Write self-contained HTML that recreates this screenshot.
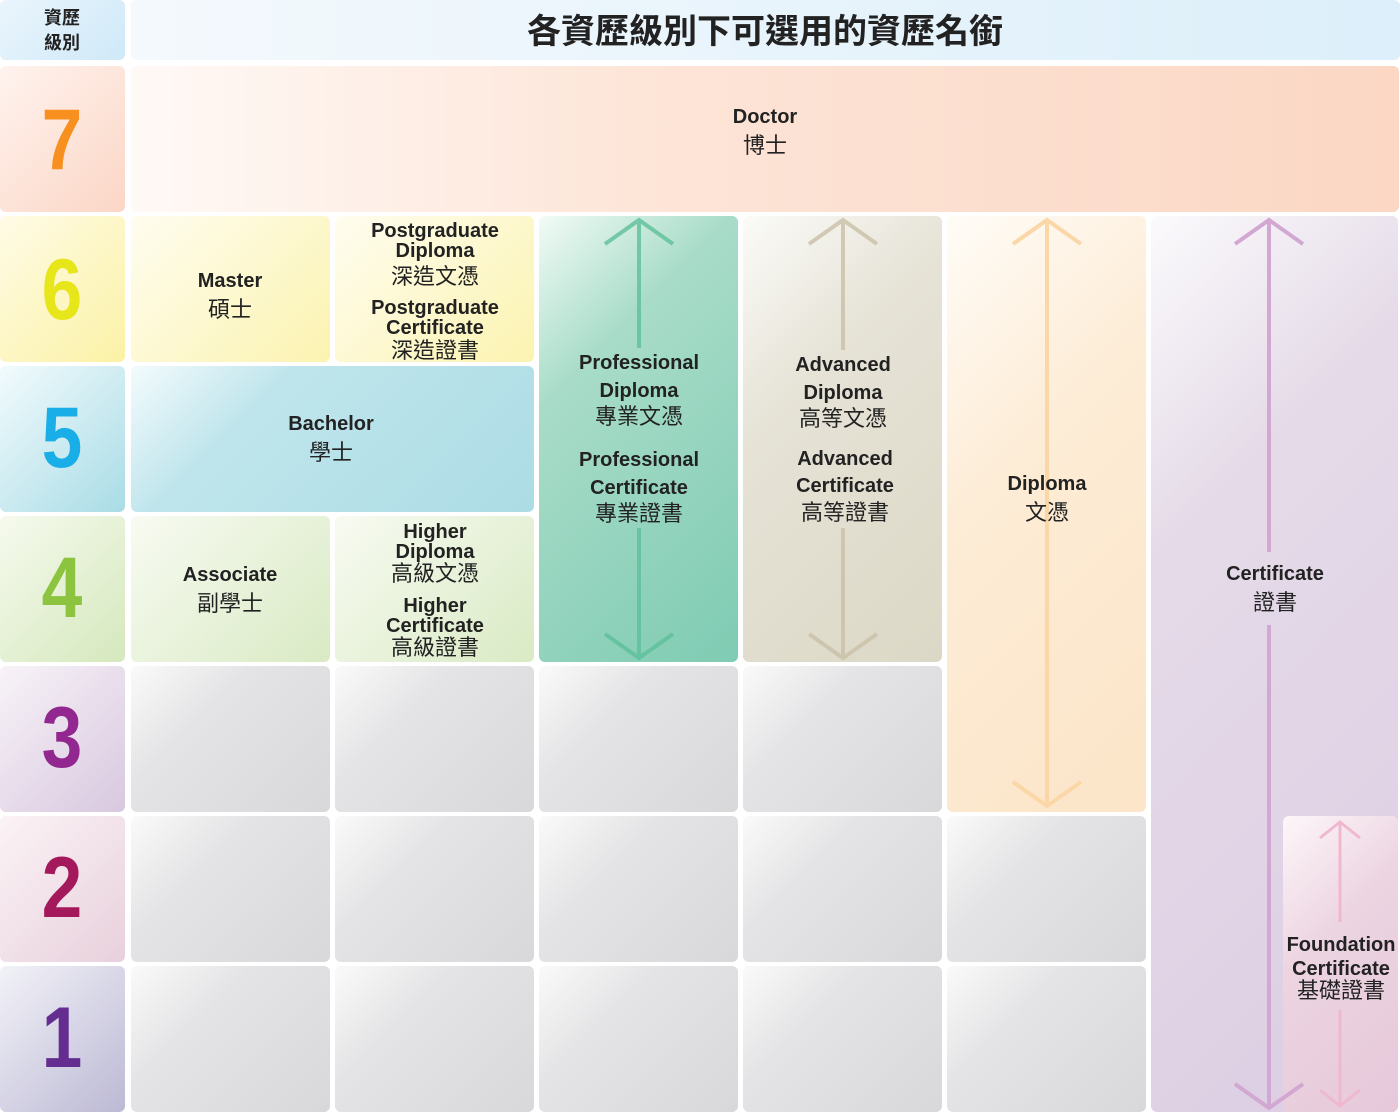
<!DOCTYPE html>
<html><head><meta charset="utf-8"><style>
body{margin:0;width:1400px;height:1113px;background:#fff;position:relative;overflow:hidden;font-family:"Liberation Sans","Noto Sans CJK TC",sans-serif;color:#222}
.b{position:absolute;border-radius:6px}
.t{position:absolute;transform:translate(-50%,-50%);white-space:nowrap;font-weight:bold;font-size:20px;line-height:1;margin-top:2px}
.c{font-weight:normal;font-size:22px}
.n{position:absolute;transform:translate(-50%,-50%) scaleX(0.85);font-weight:900;font-size:86px;font-family:"Liberation Sans",sans-serif;line-height:1}
.g{background:linear-gradient(135deg,#fafafa 0%,#e4e4e6 35%,#d8d8da 100%)}
</style></head><body>
<div class="b" style="left:0;top:0;width:125px;height:60px;background:linear-gradient(135deg,#eaf5fc,#cfe9f8)"></div>
<div class="b" style="left:131px;top:0;width:1269px;height:60px;background:linear-gradient(90deg,#f4f9fd,#dceffa)"></div>
<div class="b" style="left:0;top:66px;width:125px;height:146px;background:linear-gradient(135deg,#fff3ee,#fbd6c6)"></div>
<div class="b" style="left:0;top:216px;width:125px;height:146px;background:linear-gradient(135deg,#fffbe6,#fbf2a6)"></div>
<div class="b" style="left:0;top:366px;width:125px;height:146px;background:linear-gradient(135deg,#f2fbfd,#a9dce6)"></div>
<div class="b" style="left:0;top:516px;width:125px;height:146px;background:linear-gradient(135deg,#f6faee,#d5e8bd)"></div>
<div class="b" style="left:0;top:666px;width:125px;height:146px;background:linear-gradient(135deg,#f8f3f8,#d8c8df)"></div>
<div class="b" style="left:0;top:816px;width:125px;height:146px;background:linear-gradient(135deg,#fbf3f6,#e8d0dc)"></div>
<div class="b" style="left:0;top:966px;width:125px;height:146px;background:linear-gradient(135deg,#f2f2f8,#bcb9d4)"></div>
<div class="b" style="left:131px;top:66px;width:1268px;height:146px;background:linear-gradient(90deg,#fff9f6,#fde5d8 40%,#fbd7c4)"></div>
<div class="b" style="left:131px;top:216px;width:199px;height:146px;background:linear-gradient(135deg,#fffdf0,#fbf3b0)"></div>
<div class="b" style="left:335px;top:216px;width:199px;height:146px;background:linear-gradient(135deg,#fffdf0,#fbf3b0)"></div>
<div class="b" style="left:131px;top:366px;width:403px;height:146px;background:linear-gradient(135deg,#f3fbfd,#bfe5ec 30%,#acdce5)"></div>
<div class="b" style="left:131px;top:516px;width:199px;height:146px;background:linear-gradient(135deg,#f8fbf2,#d9eac4)"></div>
<div class="b" style="left:335px;top:516px;width:199px;height:146px;background:linear-gradient(135deg,#f8fbf2,#d9eac4)"></div>
<div class="b" style="left:539px;top:216px;width:199px;height:446px;background:linear-gradient(135deg,#f2fbf7,#a8dcc8 30%,#7fcbb3)"></div>
<div class="b" style="left:743px;top:216px;width:199px;height:446px;background:linear-gradient(135deg,#fbfbf8,#e6e3d7 35%,#dcd8c6)"></div>
<div class="b" style="left:947px;top:216px;width:199px;height:596px;background:linear-gradient(135deg,#fffcf7,#fdecd6 40%,#fce5c8)"></div>
<div class="b" style="left:1151px;top:216px;width:247px;height:896px;background:linear-gradient(135deg,#fbfafc,#e5dbe8 30%,#dccde3)"></div>
<div class="b" style="left:1283px;top:816px;width:115px;height:296px;background:linear-gradient(135deg,#fdf6f9,#ecd4e1 40%,#e6c8da)"></div>
<div class="b g" style="left:131px;top:666px;width:199px;height:146px"></div>
<div class="b g" style="left:335px;top:666px;width:199px;height:146px"></div>
<div class="b g" style="left:539px;top:666px;width:199px;height:146px"></div>
<div class="b g" style="left:743px;top:666px;width:199px;height:146px"></div>
<div class="b g" style="left:131px;top:816px;width:199px;height:146px"></div>
<div class="b g" style="left:335px;top:816px;width:199px;height:146px"></div>
<div class="b g" style="left:539px;top:816px;width:199px;height:146px"></div>
<div class="b g" style="left:743px;top:816px;width:199px;height:146px"></div>
<div class="b g" style="left:947px;top:816px;width:199px;height:146px"></div>
<div class="b g" style="left:131px;top:966px;width:199px;height:146px"></div>
<div class="b g" style="left:335px;top:966px;width:199px;height:146px"></div>
<div class="b g" style="left:539px;top:966px;width:199px;height:146px"></div>
<div class="b g" style="left:743px;top:966px;width:199px;height:146px"></div>
<div class="b g" style="left:947px;top:966px;width:199px;height:146px"></div>
<svg width="1400" height="1113" style="position:absolute;left:0;top:0" fill="none" stroke-width="4">
<g stroke="#5cbf98" opacity="0.8"><path d="M639 220V348M639 528V658M605 244L639 220L673 244M605 634L639 658L673 634"/></g>
<g stroke="#c9bfa8" opacity="0.8"><path d="M843 220V350M843 528V658M809 244L843 220L877 244M809 634L843 658L877 634"/></g>
<g stroke="#fbd7a8"><path d="M1047 220V806M1013 244L1047 220L1081 244M1013 782L1047 806L1081 782"/></g>
<g stroke="#d2a8d2"><path d="M1269 220V552M1269 625V1108M1235 244L1269 220L1303 244M1235 1084L1269 1108L1303 1084"/></g>
<g stroke="#f0b8cf" stroke-width="3"><path d="M1340 822V922M1340 1010V1106M1320 838L1340 822L1360 838M1320 1090L1340 1106L1360 1090"/></g>
</svg>
<div class="n" style="left:62px;top:140px;color:#f7901e">7</div>
<div class="n" style="left:62px;top:290px;color:#e6e61a">6</div>
<div class="n" style="left:62px;top:438px;color:#1aaee8">5</div>
<div class="n" style="left:62px;top:588px;color:#8cc43f">4</div>
<div class="n" style="left:62px;top:738px;color:#92278f">3</div>
<div class="n" style="left:62px;top:888px;color:#a3195b">2</div>
<div class="n" style="left:62px;top:1038px;color:#662d91">1</div>
<div class="t c" style="left:62px;top:16px;font-size:18px;font-weight:bold">資歷</div>
<div class="t c" style="left:62px;top:41px;font-size:18px;font-weight:bold">級別</div>
<div class="t" style="left:765px;top:30px;font-size:34px">各資歷級別下可選用的資歷名銜</div>
<div class="t" style="left:765px;top:115px">Doctor</div><div class="t c" style="left:765px;top:144px">博士</div>
<div class="t" style="left:230px;top:279px">Master</div><div class="t c" style="left:230px;top:308px">碩士</div>
<div class="t" style="left:435px;top:229px">Postgraduate</div><div class="t" style="left:435px;top:249px">Diploma</div><div class="t c" style="left:435px;top:275px">深造文憑</div>
<div class="t" style="left:435px;top:306px">Postgraduate</div><div class="t" style="left:435px;top:326px">Certificate</div><div class="t c" style="left:435px;top:349px">深造證書</div>
<div class="t" style="left:331px;top:422px">Bachelor</div><div class="t c" style="left:331px;top:451px">學士</div>
<div class="t" style="left:230px;top:573px">Associate</div><div class="t c" style="left:230px;top:602px">副學士</div>
<div class="t" style="left:435px;top:530px">Higher</div><div class="t" style="left:435px;top:550px">Diploma</div><div class="t c" style="left:435px;top:572px">高級文憑</div>
<div class="t" style="left:435px;top:604px">Higher</div><div class="t" style="left:435px;top:624px">Certificate</div><div class="t c" style="left:435px;top:646px">高級證書</div>
<div class="t" style="left:639px;top:361px">Professional</div><div class="t" style="left:639px;top:389px">Diploma</div><div class="t c" style="left:639px;top:415px">專業文憑</div>
<div class="t" style="left:639px;top:458px">Professional</div><div class="t" style="left:639px;top:486px">Certificate</div><div class="t c" style="left:639px;top:512px">專業證書</div>
<div class="t" style="left:843px;top:363px">Advanced</div><div class="t" style="left:843px;top:391px">Diploma</div><div class="t c" style="left:843px;top:417px">高等文憑</div>
<div class="t" style="left:845px;top:457px">Advanced</div><div class="t" style="left:845px;top:484px">Certificate</div><div class="t c" style="left:845px;top:511px">高等證書</div>
<div class="t" style="left:1047px;top:482px">Diploma</div><div class="t c" style="left:1047px;top:511px">文憑</div>
<div class="t" style="left:1275px;top:572px">Certificate</div><div class="t c" style="left:1275px;top:601px">證書</div>
<div class="t" style="left:1341px;top:943px">Foundation</div><div class="t" style="left:1341px;top:967px">Certificate</div><div class="t c" style="left:1341px;top:989px">基礎證書</div>
</body></html>
